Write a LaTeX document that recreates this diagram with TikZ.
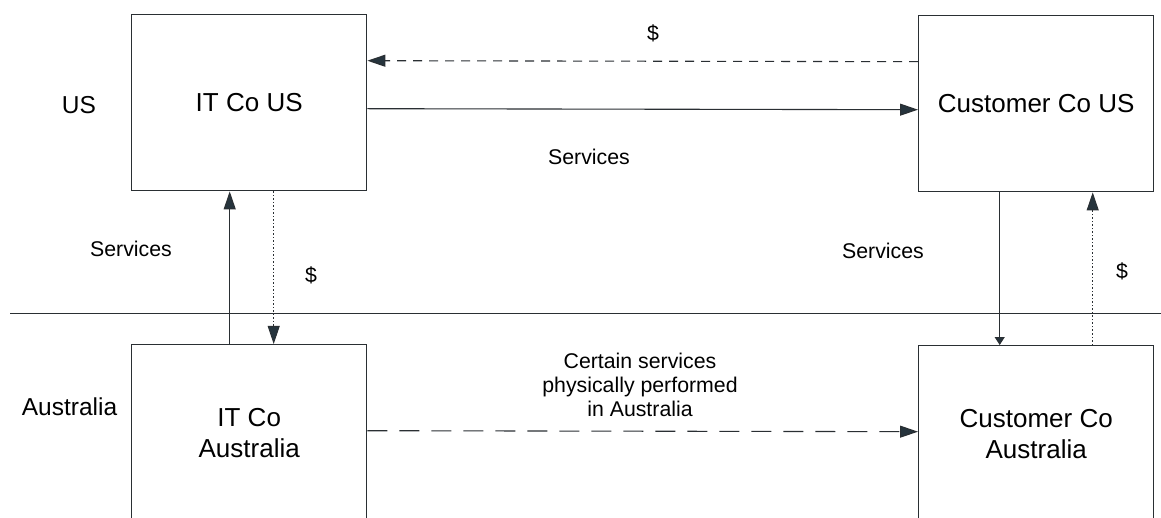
\documentclass[tikz,border=0pt]{standalone}
\usepackage{fontspec}
\setmainfont{Liberation Sans}
\usetikzlibrary{arrows.meta}
\definecolor{ink}{HTML}{2A2F33}
\definecolor{tip}{HTML}{26343D}
\begin{document}
\begin{tikzpicture}[x=1pt,y=-1pt,
  entity/.style={draw=ink,line width=1.4pt,minimum width=235pt,minimum height=176pt,
    inner sep=0pt,align=center,font=\fontsize{26}{31}\selectfont,anchor=north west},
  lbl/.style={font=\fontsize{21.3}{24}\selectfont,text=black,inner sep=0pt,align=center},
  flow/.style={draw=ink,line width=1.1pt,-{Triangle[length=18pt,width=12pt,fill=tip]}},
  smallflow/.style={draw=ink,line width=1.1pt,-{Triangle[length=8pt,width=10pt,fill=tip]}},
  dashflow/.style={flow,dash pattern=on 9pt off 7pt},
  longdash/.style={flow,dash pattern=on 20pt off 12pt},
  dotflow/.style={flow,line width=0.9pt,dash pattern=on 1.5pt off 2pt}]
\useasboundingbox[fill=white] (0,0) rectangle (1161,518);
\node[entity] (itus) at (131,14) {IT Co US};
\node[entity] (cus) at (918,15) {Customer Co US};
\node[entity] (itau) at (131,344) {IT Co\\Australia};
\node[entity] (cau) at (918,345) {Customer Co\\Australia};
\coordinate (ll) at (10,313);
\coordinate (lr) at (1161,313);
\draw[ink,line width=0.9pt] (ll) -- (lr);
% top flows
\draw[dashflow] ([yshift=42pt]cus.west) -- ([yshift=42pt]itus.east);
\draw[flow] ([yshift=-6pt]itus.east) -- ([yshift=-6pt]cus.west);
\node[lbl] (d1) at (653,33) {\$};
\node[lbl] (s1) at (589,157) {Services};
% left verticals
\draw[flow] ([xshift=-19.5pt]itau.north) -- ([xshift=-19.5pt]itus.south);
\draw[dotflow] ([xshift=24.5pt]itus.south) -- ([xshift=24.5pt]itau.north);
\node[lbl] (s2) at (131,249) {Services};
\node[lbl] (d2) at (311,275) {\$};
% right verticals
\draw[smallflow] ([xshift=-36.5pt]cus.south) -- ([xshift=-36.5pt]cau.north);
\draw[dotflow] ([xshift=56.5pt]cau.north) -- ([xshift=56.5pt]cus.south);
\node[lbl] (s3) at (883,251) {Services};
\node[lbl] (d3) at (1122,271) {\$};
% bottom flow
\draw[longdash] ([yshift=2pt]itau.east) -- ([yshift=2pt]cau.west);
\node[lbl] (cert) at (640,385) {Certain services\\physically performed\\in Australia};
% region labels
\node[lbl,font=\fontsize{24.5}{28}\selectfont] (us) at (79,105) {US};
\node[lbl,font=\fontsize{24.5}{28}\selectfont] (au) at (69.5,407) {Australia};
\end{tikzpicture}
\end{document}
